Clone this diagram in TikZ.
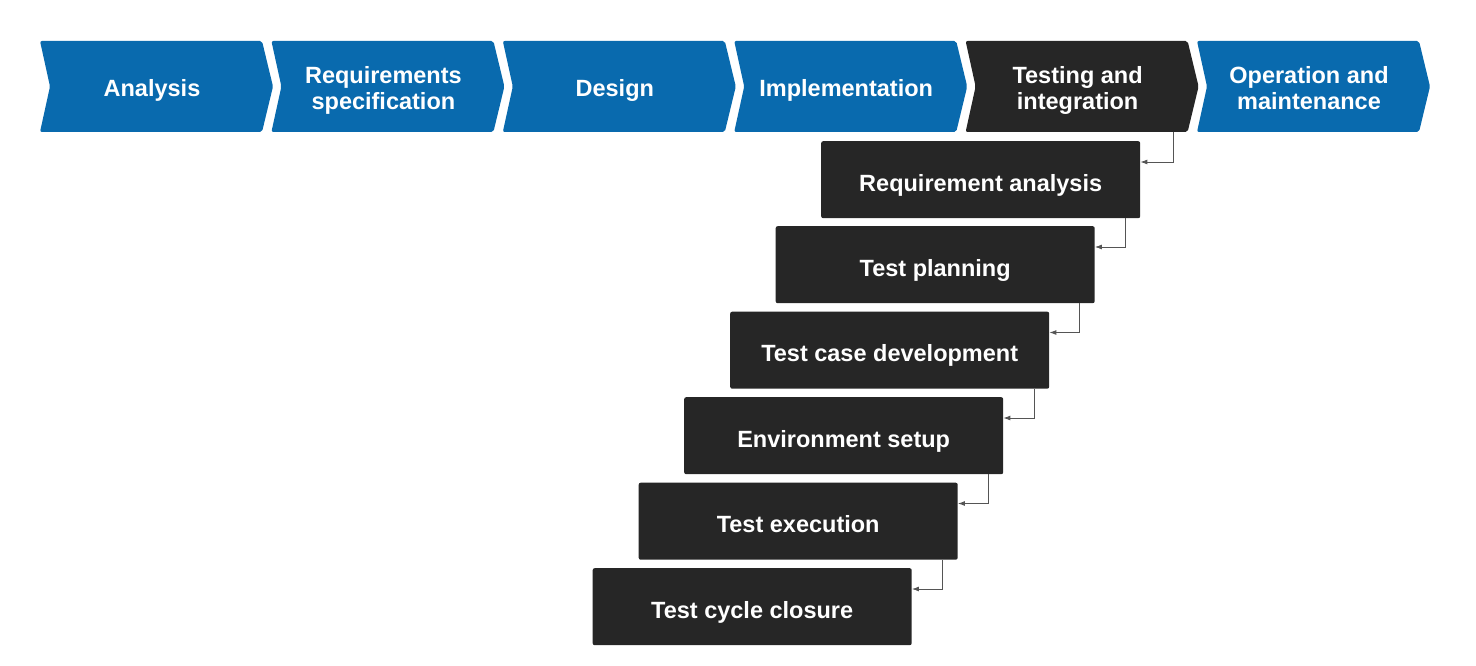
\documentclass[tikz,border=0pt]{standalone}
\usepackage{fontspec}
\setmainfont{Liberation Sans}
\usetikzlibrary{arrows.meta}
\definecolor{wfblue}{RGB}{9,106,174}
\definecolor{wfdark}{RGB}{38,38,38}
\definecolor{wfline}{RGB}{85,85,85}
\tikzset{
  chevframe/.style={minimum width=233pt,minimum height=91pt,inner sep=0pt},
  chevtext/.style={inner sep=0pt,align=center,text=white,font=\fontsize{23.5}{26}\selectfont\bfseries},
  oneline/.style={text height=20pt,text depth=0pt},
  twoline/.style={text height=47pt,text depth=0pt},
  stepbox/.style={fill=wfdark,rounded corners=2pt,minimum width=319pt,minimum height=77pt,inner sep=0pt,text=white,text height=23pt,text depth=0pt,font=\fontsize{23.5}{26}\selectfont\bfseries},
  conn/.style={draw=wfline,line width=0.9pt,-{Latex[length=7pt,width=5pt]}}
}
\begin{document}
\begin{tikzpicture}[x=1pt,y=-1pt]
\useasboundingbox (0,0) rectangle (1476,666);
\foreach \i/\col/\ln/\txt in {0/wfblue/oneline/Analysis,1/wfblue/twoline/{Requirements\\specification},2/wfblue/oneline/Design,3/wfblue/oneline/Implementation,4/wfdark/twoline/{Testing and\\integration},5/wfblue/twoline/{Operation and\\maintenance}}{
  \pgfmathsetmacro{\L}{40+231.4*\i}
  \fill[\col,rounded corners=2pt] (\L,41) -- (\L+222,41) -- (\L+233,86.5) -- (\L+222,132) -- (\L,132) -- (\L+10,86.5) -- cycle;
  \node[chevframe,anchor=north west] (c\i) at (\L,41) {};
  \node[chevtext,\ln] (t\i) at (\L+112,86.5) {\txt};
}
\node[stepbox,anchor=north west] (b1) at (821,141) {Requirement analysis};
\node[stepbox,anchor=north west] (b2) at (775.5,226) {Test planning};
\node[stepbox,anchor=north west] (b3) at (730,311.5) {Test case development};
\node[stepbox,anchor=north west] (b4) at (684,397) {Environment setup};
\node[stepbox,anchor=north west] (b5) at (638.5,482.5) {Test execution};
\node[stepbox,anchor=north west] (b6) at (592.5,568) {Test cycle closure};
\draw[conn] ([xshift=-26pt]c4.south east) |- ([yshift=-21pt]b1.north east);
\foreach \a/\b in {b1/b2,b2/b3,b3/b4,b4/b5,b5/b6}{
  \draw[conn] ([xshift=-15pt]\a.south east) |- ([yshift=-21pt]\b.north east);
}
\end{tikzpicture}
\end{document}
